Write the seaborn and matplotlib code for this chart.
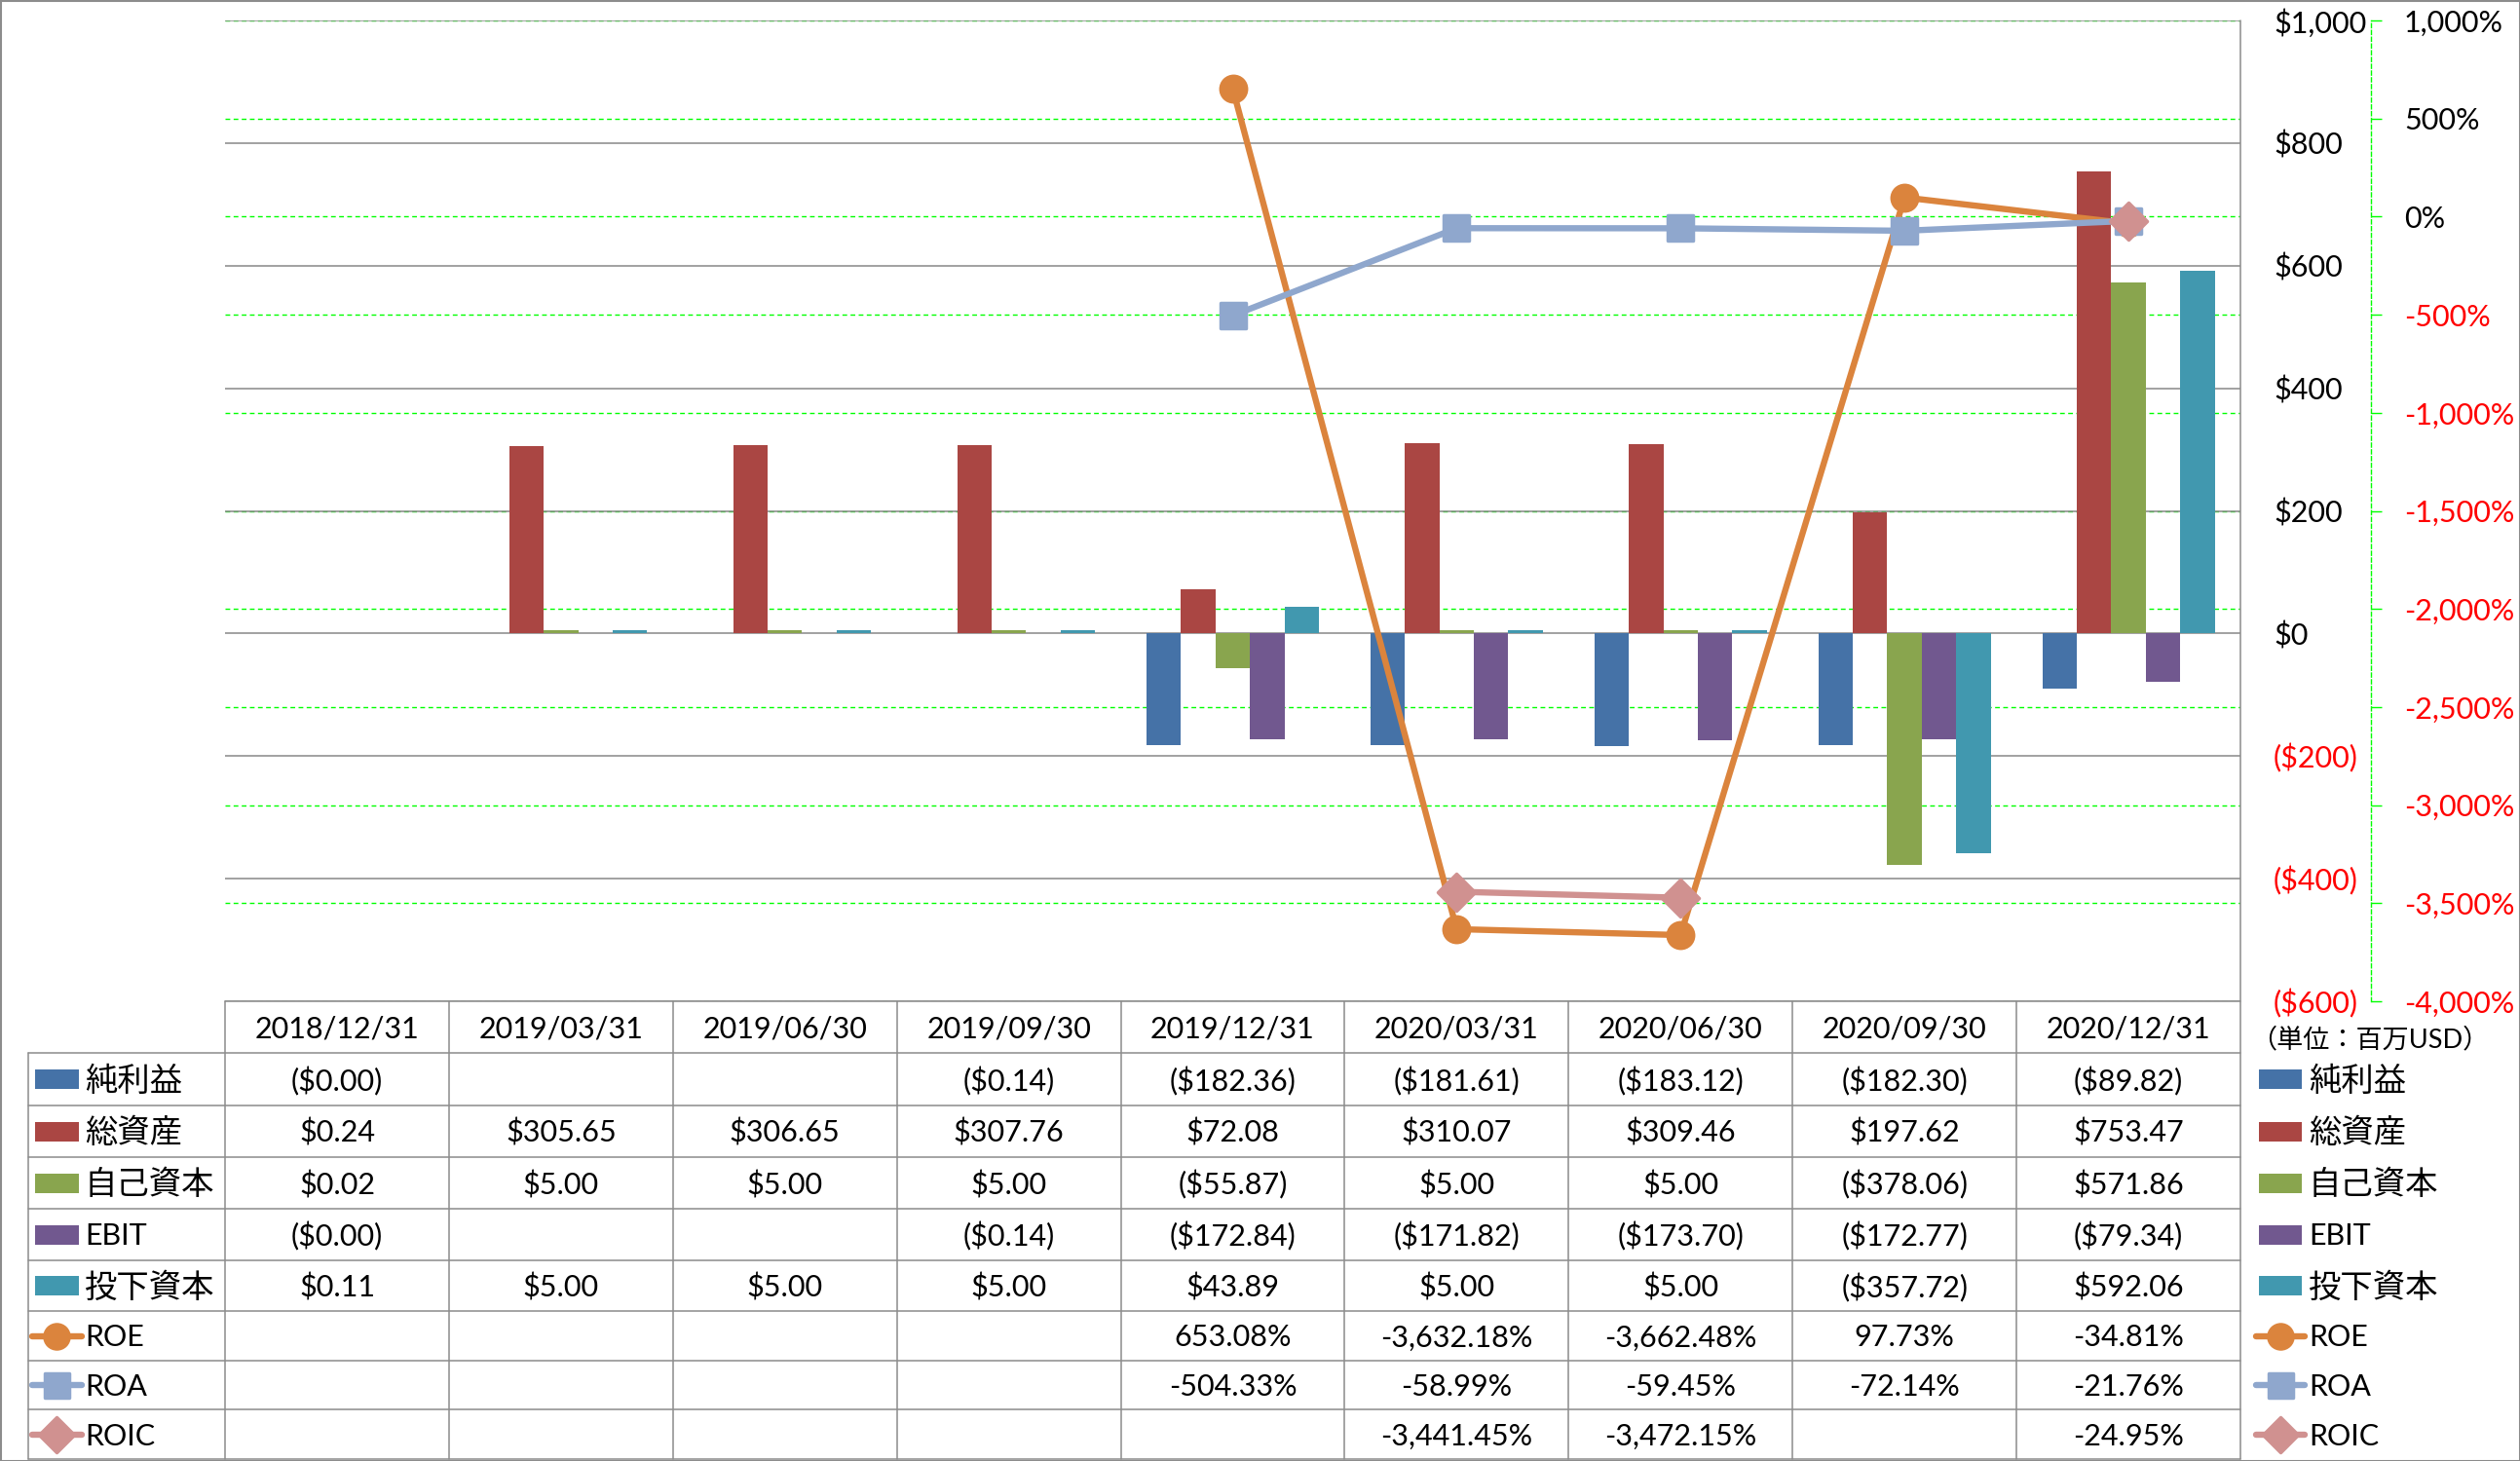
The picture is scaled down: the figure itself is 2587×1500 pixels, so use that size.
import numpy as np
import pandas as pd
import matplotlib
matplotlib.use('Agg')
import matplotlib.pyplot as plt
import seaborn as sns
from matplotlib.patches import Rectangle
from matplotlib.markers import MarkerStyle

# ---------------- data ----------------
dates = ['2018/12/31', '2019/03/31', '2019/06/30', '2019/09/30', '2019/12/31',
         '2020/03/31', '2020/06/30', '2020/09/30', '2020/12/31']
bar_names = ['純利益', '総資産', '自己資本', 'EBIT', '投下資本']
nan = np.nan
net_income = [-0.001, nan, nan, -0.14, -182.36, -181.61, -183.12, -182.30, -89.82]
total_assets = [0.24, 305.65, 306.65, 307.76, 72.08, 310.07, 309.46, 197.62, 753.47]
equity = [0.02, 5.00, 5.00, 5.00, -55.87, 5.00, 5.00, -378.06, 571.86]
ebit = [-0.001, nan, nan, -0.14, -172.84, -171.82, -173.70, -172.77, -79.34]
invested_capital = [0.11, 5.00, 5.00, 5.00, 43.89, 5.00, 5.00, -357.72, 592.06]
ratio_names = ['ROE', 'ROA', 'ROIC']
roe = [nan, nan, nan, nan, 653.08, -3632.18, -3662.48, 97.73, -34.81]
roa = [nan, nan, nan, nan, -504.33, -58.99, -59.45, -72.14, -21.76]
roic = [nan, nan, nan, nan, nan, -3441.45, -3472.15, nan, -24.95]
unit_label = '（単位：百万USD）'
money_ticks = [-600, -400, -200, 0, 200, 400, 600, 800, 1000]
pct_ticks = [-4000, -3500, -3000, -2500, -2000, -1500, -1000, -500, 0, 500, 1000]

bar_values = [net_income, total_assets, equity, ebit, invested_capital]
ratio_values = [roe, roa, roic]

# ---------------- styles ----------------
bar_colors = ['#4572A7', '#AA4643', '#89A54E', '#71588F', '#4198AF']
line_colors = ['#DB843D', '#8FA7CD', '#D09190']
line_markers = ['o', 's', 'D']
RED = '#FF0000'
GRID_GRAY = '#878787'
TABLE_GRAY = '#8C8C8C'
LIME = '#00FF00'
LW = 4.6

sns.set_style('white')
plt.rcParams['font.family'] = ['Lato', 'Noto Sans CJK JP', 'DejaVu Sans']

W, H = 2587, 1500
PX = 72 / 100.0  # points per pixel at dpi 100
fig = plt.figure(figsize=(W / 100, H / 100), dpi=100)

x0, x1 = 231, 2300
y_top, y_bot = 21, 1028
rect = [x0 / W, 1 - y_bot / H, (x1 - x0) / W, (y_bot - y_top) / H]
ax = fig.add_axes(rect)
ax_g = ax.twinx()
ax2 = ax.twinx()
ax_g.set_zorder(0)
ax.set_zorder(1)
ax2.set_zorder(2)
ax.patch.set_visible(False)
ax_g.patch.set_visible(False)

# ---------------- bars ----------------
records = [(d, name, v) for name, vals in zip(bar_names, bar_values)
           for d, v in zip(dates, vals)]
df = pd.DataFrame(records, columns=['date', 'series', 'value'])
sns.barplot(data=df, x='date', y='value', hue='series', order=dates,
            hue_order=bar_names, palette=bar_colors, width=0.77, saturation=1,
            errorbar=None, linewidth=0, legend=False, ax=ax, zorder=2)
ax.set_xlim(-0.5, 8.5)
ax.set_ylim(-600, 1000)
ax.set_xlabel('')
ax.set_ylabel('')
ax.tick_params(axis='x', bottom=False, labelbottom=False, top=False)
ax.set_axisbelow(True)
ax.yaxis.grid(True, color=GRID_GRAY, lw=1.1)
ax.xaxis.grid(False)


def money_tick(v):
    s = f"${abs(v):,.0f}"
    return f"({s})" if v < 0 else s


def pct_tick(v):
    return f"{v:,.0f}%"


# green percent grid (below bars)
ax_g.set_ylim(-4000, 1000)
ax_g.set_yticks(pct_ticks)
ax_g.yaxis.grid(True, color=LIME, ls=(0, (3.5, 2.5)), lw=1.0)
ax_g.tick_params(axis='y', length=0, labelright=False, labelleft=False)

# ---------------- lines ----------------
xs = np.arange(len(dates))
for vals, c, m, z in zip(ratio_values, line_colors, line_markers, [3, 4, 5]):
    ax2.plot(xs, vals, color=c, lw=LW, zorder=z, solid_capstyle='round',
             marker=MarkerStyle(m, joinstyle='round'), ms=19, mec=c, mfc=c, mew=2.5)
ax2.set_ylim(-4000, 1000)
ax2.set_xlim(-0.5, 8.5)

for a in (ax, ax_g, ax2):
    for s in a.spines.values():
        s.set_visible(False)
sp = ax2.spines['right']
sp.set_visible(True)
sp.set_position(('outward', 134 * PX))
sp.set_color(LIME)
sp.set_linestyle((0, (3, 2)))
sp.set_linewidth(1.0)

# tick labels (after spine positioning, which resets ticks)
ax.yaxis.tick_right()
ax.set_yticks(money_ticks)
ax.set_yticklabels([money_tick(v) for v in money_ticks])
ax.tick_params(axis='y', which='both', length=0, pad=34 * PX, labelsize=22,
               left=False, labelleft=False, right=True, labelright=True)

ax2.set_yticks(pct_ticks)
ax2.set_yticklabels([pct_tick(v) for v in pct_ticks])
ax2.tick_params(axis='y', direction='out', length=11 * PX, width=1, color=LIME,
                pad=23 * PX, labelsize=22)

for lab, v in zip(ax.get_yticklabels(), money_ticks):
    lab.set_color(RED if v < 0 else 'black')
for lab, v in zip(ax2.get_yticklabels(), pct_ticks):
    lab.set_color(RED if v < 0 else 'black')

# ---------------- table & legend overlay ----------------
ov = fig.add_axes([0, 0, 1, 1])
ov.set_xlim(0, W)
ov.set_ylim(H, 0)
ov.axis('off')
ov.set_zorder(10)

colw = (x1 - x0) / len(dates)
hdr_top = 1028
row_edges = [1081, 1135, 1188, 1241, 1294, 1346, 1397, 1447, 1498]
lab_left = 29

# borders
ov.plot([x0, x1], [hdr_top, hdr_top], color=TABLE_GRAY, lw=1.1)
for y in row_edges:
    ov.plot([lab_left, x1], [y, y], color=TABLE_GRAY, lw=1.1)
ov.plot([lab_left, lab_left], [row_edges[0], row_edges[-1]], color=TABLE_GRAY, lw=1.1)
for k in range(len(dates) + 1):
    xx = x0 + k * colw
    ytop = y_top if k == len(dates) else hdr_top
    ov.plot([xx, xx], [ytop, row_edges[-1]], color=TABLE_GRAY, lw=1.1)

FS = 22
DY = 2
for i, d in enumerate(dates):
    ov.text(x0 + (i + 0.5) * colw, (hdr_top + row_edges[0]) / 2 + DY, d,
            ha='center', va='center', fontsize=FS, color='black')


def money_cell(v):
    if v is None or np.isnan(v):
        return ''
    s = f"${abs(v):,.2f}"
    return f"({s})" if v < 0 else s


def pct_cell(v):
    if v is None or np.isnan(v):
        return ''
    return f"{v:,.2f}%"


all_names = bar_names + ratio_names
all_rows = [[money_cell(v) for v in vals] for vals in bar_values] + \
           [[pct_cell(v) for v in vals] for vals in ratio_values]

for r, (name, cells) in enumerate(zip(all_names, all_rows)):
    yc = (row_edges[r] + row_edges[r + 1]) / 2
    for i, t in enumerate(cells):
        if t:
            ov.text(x0 + (i + 0.5) * colw, yc + DY, t, ha='center', va='center',
                    fontsize=FS, color='black')
    is_cjk = any(ord(ch) > 0x2E80 for ch in name)
    lfs = 24 if is_cjk else FS
    # left label glyph + text, right legend glyph + text
    for gx0, gx1, tx in [(36, 81, 87), (2319, 2363, 2370)]:
        if r < len(bar_names):
            ov.add_patch(Rectangle((gx0, yc - 10), gx1 - gx0, 20,
                                   color=bar_colors[r], lw=0))
        else:
            j = r - len(bar_names)
            c = line_colors[j]
            ov.plot([gx0 - 3, gx1 + 3], [yc, yc], color=c, lw=LW,
                    solid_capstyle='round')
            ov.plot([(gx0 + gx1) / 2], [yc], color=c,
                    marker=MarkerStyle(line_markers[j], joinstyle='round'),
                    ms=18, mec=c, mfc=c, mew=2.5)
        ov.text(tx, yc + DY, name, ha='left', va='center', fontsize=lfs,
                color='black')

ov.text(2433, 1068, unit_label, ha='center', va='center', fontsize=19.5,
        color='black')

fig.add_artist(Rectangle((0, 0), 1, 1, transform=fig.transFigure, fill=False,
                         ec=TABLE_GRAY, lw=2.2))

fig.savefig('out.png', dpi=100)
